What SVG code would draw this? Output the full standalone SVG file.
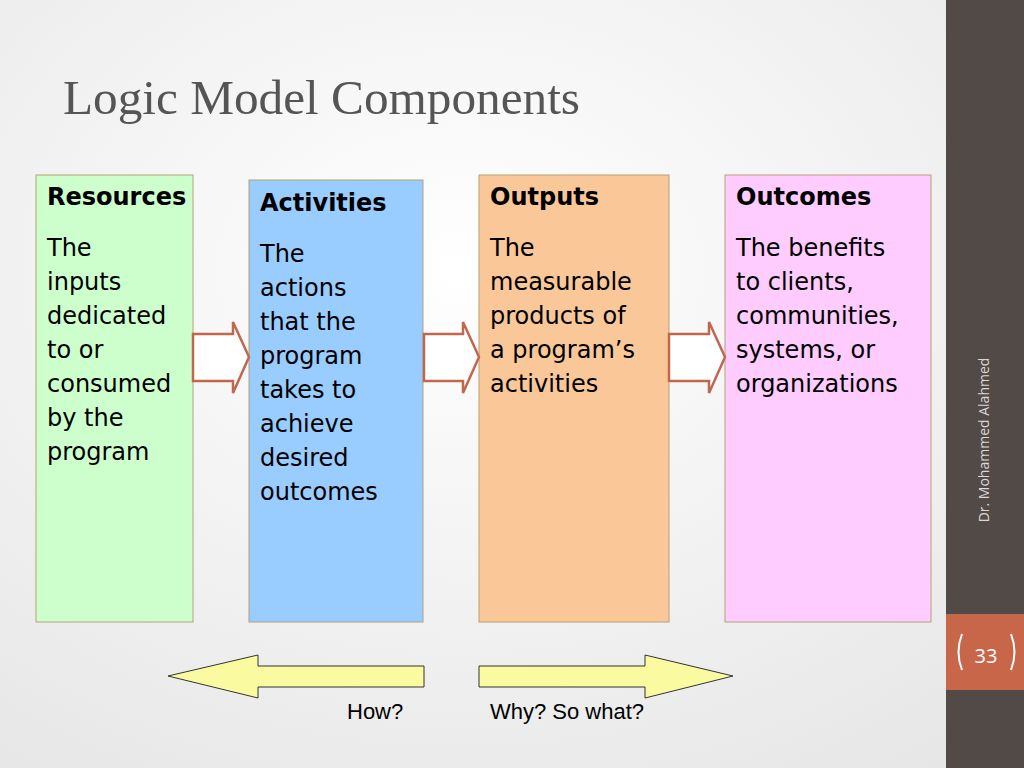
<svg xmlns="http://www.w3.org/2000/svg" width="1024" height="768" viewBox="0 0 1024 768">
<defs>
<radialGradient id="bg" cx="0.45" cy="0.35" r="0.8"><stop offset="0" stop-color="#ffffff"/><stop offset="1" stop-color="#e6e6e6"/></radialGradient>
<style>
.t{font-family:"DejaVu Sans",sans-serif;font-size:24px;fill:#000}
.h{font-weight:bold}
.box{stroke:#b8a07a;stroke-width:1}
.ar{fill:#fff;stroke:#c0674e;stroke-width:2.5}
.big{fill:#fafaa0;stroke:#333;stroke-width:1}
</style>
</defs>
<rect width="1024" height="768" fill="url(#bg)"/>
<rect x="946" y="0" width="78" height="768" fill="#524a46"/>
<rect x="946" y="614" width="78" height="76" fill="#c8664a"/>
<path d="M962 634 Q955 652 962 670 M1011 634 Q1018 652 1011 670" fill="none" stroke="#fff" stroke-width="2"/>
<text x="986" y="663" text-anchor="middle" font-family="Open Sans,sans-serif" font-size="20" fill="#fff">33</text>
<text transform="translate(989,440) rotate(-90)" text-anchor="middle" font-family="Open Sans,sans-serif" font-size="14" fill="#d8d8d8">Dr. Mohammed Alahmed</text>
<text x="63" y="114" font-family="Liberation Serif,serif" font-size="48" fill="#555" textLength="517" lengthAdjust="spacingAndGlyphs">Logic Model Components</text>
<g id="resources"><rect class="box" x="36" y="175" width="157" height="447" fill="#ccffcc"/>
<text class="t h" x="47" y="205" font-size="22">Resources</text>
<text class="t"><tspan x="47" y="256">The</tspan><tspan x="47" y="290">inputs</tspan><tspan x="47" y="324">dedicated</tspan><tspan x="47" y="358">to or</tspan><tspan x="47" y="392">consumed</tspan><tspan x="47" y="426">by the</tspan><tspan x="47" y="460">program</tspan></text></g>
<g id="activities"><rect class="box" x="249" y="180" width="174" height="442" fill="#99ccff"/>
<text class="t h" x="260" y="211" font-size="22">Activities</text>
<text class="t"><tspan x="260" y="262">The</tspan><tspan x="260" y="296">actions</tspan><tspan x="260" y="330">that the</tspan><tspan x="260" y="364">program</tspan><tspan x="260" y="398">takes to</tspan><tspan x="260" y="432">achieve</tspan><tspan x="260" y="466">desired</tspan><tspan x="260" y="500">outcomes</tspan></text></g>
<g id="outputs"><rect class="box" x="479" y="175" width="190" height="447" fill="#fac898"/>
<text class="t h" x="490" y="205" font-size="22">Outputs</text>
<text class="t"><tspan x="490" y="256">The</tspan><tspan x="490" y="290">measurable</tspan><tspan x="490" y="324">products of</tspan><tspan x="490" y="358">a program’s</tspan><tspan x="490" y="392">activities</tspan></text></g>
<g id="outcomes"><rect class="box" x="725" y="175" width="206" height="447" fill="#ffccff"/>
<text class="t h" x="736" y="205" font-size="22">Outcomes</text>
<text class="t"><tspan x="736" y="256">The benefits</tspan><tspan x="736" y="290">to clients,</tspan><tspan x="736" y="324">communities,</tspan><tspan x="736" y="358">systems, or</tspan><tspan x="736" y="392">organizations</tspan></text></g>
<g id="connectors">
<polygon class="ar" points="193,334 233,334 233,322 249,357 233,393 233,381 193,381"/>
<polygon class="ar" points="424,334 463,334 463,322 479,357 463,393 463,381 424,381"/>
<polygon class="ar" points="669,334 709,334 709,322 725,357 709,393 709,381 669,381"/>
<polygon class="big" points="168,676 258,655 258,666 424,666 424,687 258,687 258,698"/>
<polygon class="big" points="733,676 645,655 645,666 479,666 479,687 645,687 645,698"/>
</g>
<text x="347" y="719" font-family="Liberation Sans,sans-serif" font-size="22">How?</text>
<text x="490" y="719" font-family="Liberation Sans,sans-serif" font-size="22">Why? So what?</text>
</svg>
